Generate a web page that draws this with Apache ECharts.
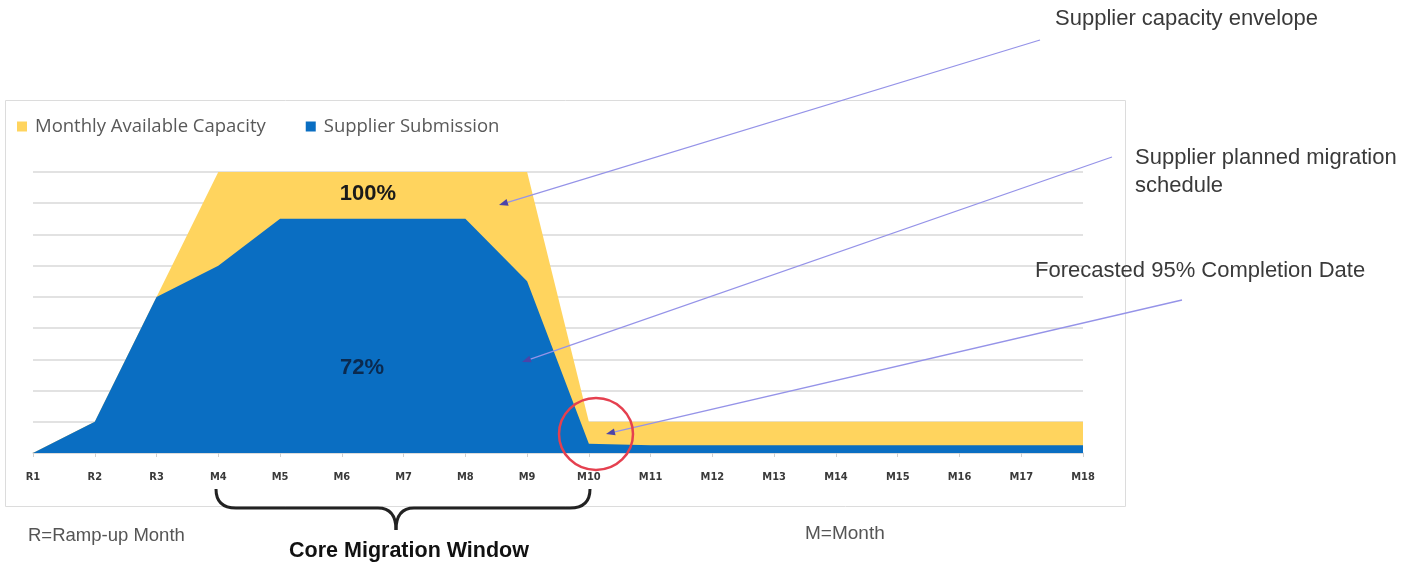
<!DOCTYPE html>
<html>
<head>
<meta charset="utf-8">
<script src="https://cdn.jsdelivr.net/npm/echarts@6/dist/echarts.min.js"></script>
<style>
html,body{margin:0;padding:0;background:#fff;}
#c{width:1413px;height:566px;}
</style>
</head>
<body>
<div id="c"></div>
<script>
var categories = ['R1','R2','R3','M4','M5','M6','M7','M8','M9','M10','M11','M12','M13','M14','M15','M16','M17','M18'];
var capacity   = [0, 1, 5, 9, 9, 9, 9, 9, 9, 1, 1, 1, 1, 1, 1, 1, 1, 1];
var submission = [0, 1, 5, 6, 7.5, 7.5, 7.5, 7.5, 5.5, 0.3, 0.25, 0.25, 0.25, 0.25, 0.25, 0.25, 0.25, 0.25];
var seriesNames = ['Monthly Available Capacity', 'Supplier Submission'];

var YELLOW = '#FFD45E', BLUE = '#0A6EC2';

function arrow(x1, y1, x2, y2) {
  var dx = x2 - x1, dy = y2 - y1, L = Math.sqrt(dx*dx + dy*dy);
  var ux = dx / L, uy = dy / L, len = 9, hw = 3.5;
  var bx = x2 - ux*len, by = y2 - uy*len;
  return [
    {type:'line', z:50, shape:{x1:x1, y1:y1, x2:bx, y2:by}, style:{stroke:'#9593E8', lineWidth:1.3}},
    {type:'polygon', z:51, shape:{points:[[x2,y2],[bx - uy*hw, by + ux*hw],[bx + uy*hw, by - ux*hw]]}, style:{fill:'#4C44A8'}}
  ];
}
function txt(x, y, s, size, color, weight, align) {
  return {type:'text', z:60, x:x, y:y, style:{text:s, fill:color, fontSize:size, fontWeight:weight||'normal',
    fontFamily:'Liberation Sans, Arial, sans-serif', textAlign:align||'left', textVerticalAlign:'middle', verticalAlign:'middle'}};
}
function quad(x1, y1, cx, cy, x2, y2) {
  return {type:'bezierCurve', z:55, shape:{x1:x1, y1:y1, cpx1:cx, cpy1:cy, x2:x2, y2:y2},
    style:{fill:'none', stroke:'#222', lineWidth:3}};
}
function seg(x1, y1, x2, y2) {
  return {type:'line', z:55, shape:{x1:x1, y1:y1, x2:x2, y2:y2}, style:{stroke:'#222', lineWidth:3}};
}

var graphics = [
  {type:'rect', z:-10, shape:{x:5.5, y:100.5, width:1120, height:406}, style:{fill:'none', stroke:'#DCDCDC', lineWidth:1}},
  {type:'ellipse', z:55, shape:{cx:596, cy:434, rx:37, ry:36}, style:{fill:'none', stroke:'#E5404F', lineWidth:2.5}},
  quad(216, 489, 216, 508, 236, 508), seg(236, 508, 378, 508), quad(378, 508, 396, 508, 396, 530),
  quad(396, 530, 396, 508, 414, 508), seg(414, 508, 570, 508), quad(570, 508, 590, 508, 590, 489),
  txt(368, 194, '100%', 22, '#1a1a1a', 'bold', 'center'),
  txt(362, 368, '72%', 22, '#0B2A4F', 'bold', 'center'),
  txt(1055, 19, 'Supplier capacity envelope', 22, '#3a3a3a'),
  txt(1135, 158, 'Supplier planned migration', 22, '#3a3a3a'),
  txt(1135, 186, 'schedule', 22, '#3a3a3a'),
  txt(1035, 271, 'Forecasted 95% Completion Date', 22, '#3a3a3a'),
  txt(28, 536, 'R=Ramp-up Month', 18.5, '#555'),
  txt(805, 534, 'M=Month', 19, '#555'),
  txt(409, 551, 'Core Migration Window', 21.5, '#111', 'bold', 'center')
].concat(arrow(1040, 40, 499, 205))
 .concat(arrow(1112, 157, 522, 362))
 .concat(arrow(1182, 300, 606, 434));

var chart = echarts.init(document.getElementById('c'));
chart.setOption({
  animation:false,
  backgroundColor:'#fff',
  legend:{
    left:12, top:112, itemWidth:10, itemHeight:10, itemGap:40, icon:'rect',
    textStyle:{fontFamily:'Open Sans, sans-serif', fontSize:18.5, color:'#595959', padding:[0,0,0,3]},
    data:seriesNames
  },
  grid:{left:33, right:330, top:172, bottom:113},
  xAxis:{
    type:'category', data:categories, boundaryGap:false,
    axisLine:{lineStyle:{color:'#D9D9D9', width:1.5}},
    axisTick:{show:true, length:4, lineStyle:{color:'#D0D0D0'}},
    axisLabel:{margin:19, fontSize:11, fontWeight:'bold', color:'#3a3a3a',
      fontFamily:'Liberation Sans Narrow, DejaVu Sans Condensed, Liberation Sans, sans-serif'}
  },
  yAxis:{
    type:'value', min:0, max:9, interval:1,
    axisLabel:{show:false}, axisLine:{show:false}, axisTick:{show:false},
    splitLine:{lineStyle:{color:'#E2E2E2', width:2}}
  },
  series:[
    {name:seriesNames[0], type:'line', data:capacity, symbol:'none', itemStyle:{color:YELLOW},
     lineStyle:{width:0}, areaStyle:{color:YELLOW, opacity:1}, z:2},
    {name:seriesNames[1], type:'line', data:submission, symbol:'none', itemStyle:{color:BLUE},
     lineStyle:{width:0}, areaStyle:{color:BLUE, opacity:1}, z:3}
  ],
  graphic:graphics
});
</script>
</body>
</html>
